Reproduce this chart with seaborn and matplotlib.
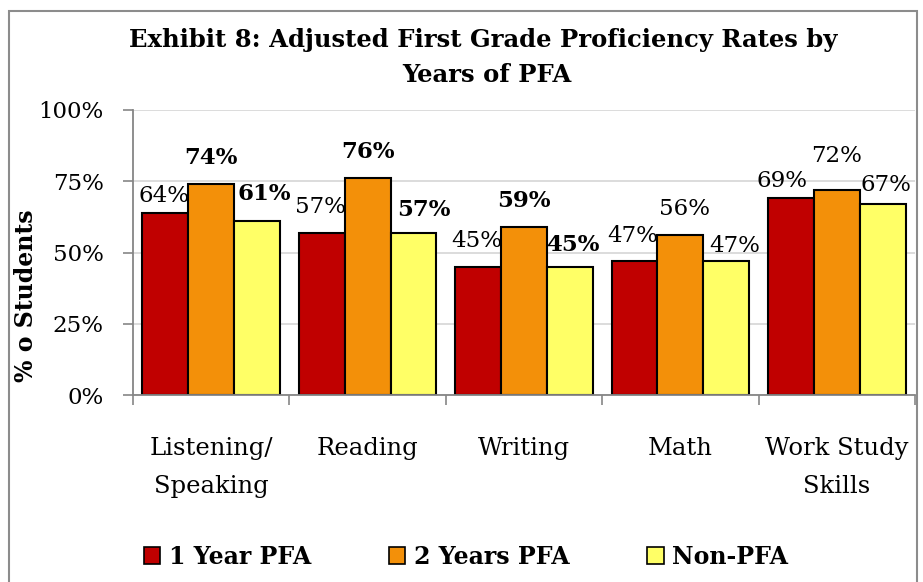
import numpy as np
import pandas as pd
import seaborn as sns
import matplotlib.pyplot as plt
from matplotlib.patches import Patch, Rectangle

# Data
CATEGORIES = ["Listening/\nSpeaking", "Reading", "Writing", "Math", "Work Study\nSkills"]
GROUPS = ["1 Year PFA", "2 Years PFA", "Non-PFA"]
ONE_YEAR = [64, 57, 45, 47, 69]
TWO_YEARS = [74, 76, 59, 56, 72]
NON_PFA = [61, 57, 45, 47, 67]
BOLD_LABELS = [
    [False, False, False, False, False],
    [True, True, True, False, False],
    [True, True, True, False, False],
]
Y_TICKS = [0, 25, 50, 75, 100]

COLORS = ["#C00000", "#F39009", "#FFFF66"]

# label nudges in pixels (dx, gap above bar top), same layout as groups x categories
NUDGE = [
    [(-1, 11), (-1, 20), (-1, 20), (-2, 19), (-9, 11)],
    [(0, 20), (0, 20), (0, 20), (4, 20), (0, 28)],
    [(7, 21), (10, 17), (3, 16), (8, 9), (3, 13)],
]

df = pd.DataFrame({
    "category": CATEGORIES * 3,
    "group": np.repeat(GROUPS, len(CATEGORIES)),
    "value": ONE_YEAR + TWO_YEARS + NON_PFA,
})

sns.set_theme(style="white")
plt.rcParams["font.family"] = ["DejaVu Serif"]
plt.rcParams["text.color"] = "black"
plt.rcParams["axes.labelcolor"] = "black"

fig = plt.figure(figsize=(9.23, 5.82), dpi=100)
ax = fig.add_axes([133 / 923, 187 / 582, 782 / 923, 285 / 582])

sns.barplot(data=df, x="category", y="value", hue="group", palette=COLORS,
            width=0.88, gap=0, edgecolor="black", linewidth=1.5,
            saturation=1, legend=False, ax=ax)

# data labels
for i, cont in enumerate(ax.containers):
    for j, bar in enumerate(cont):
        dx, dy = NUDGE[i][j]
        ax.annotate(f"{int(bar.get_height())}%",
                    (bar.get_x() + bar.get_width() / 2, bar.get_height()),
                    xytext=(dx, dy), textcoords="offset pixels",
                    ha="center", va="baseline", fontsize=16.5, color="black",
                    fontweight="bold" if BOLD_LABELS[i][j] else "normal")

# axes styling
ax.set_ylim(0, 100)
ax.set_xlim(-0.5, len(CATEGORIES) - 0.5)
ax.set_yticks(Y_TICKS)
ax.set_yticklabels([f"{t}%" for t in Y_TICKS], fontsize=16.5)
ax.yaxis.grid(True, color="#D9D9D9", linewidth=1.3)
ax.set_axisbelow(True)
ax.tick_params(axis="y", length=7, width=1.2, color="#868686", labelcolor="black",
               pad=14, left=True)
ax.set_xticks(np.arange(-0.5, len(CATEGORIES)), minor=True)
ax.tick_params(axis="x", which="minor", length=7, width=1.2, color="#868686", bottom=True)
ax.tick_params(axis="x", which="major", length=0, pad=30, labelsize=17.5, labelcolor="black")
for lbl in ax.get_xticklabels():
    lbl.set_linespacing(1.85)
sns.despine(ax=ax)
for s in ["left", "bottom"]:
    ax.spines[s].set_color("#868686")
    ax.spines[s].set_linewidth(1.3)

ax.set_xlabel("")
ax.set_ylabel("% o Students", fontsize=17, fontweight="bold")
ax.yaxis.set_label_coords(-0.121, 0.35)

# title
fig.text(483 / 923, 1 - 40 / 582, "Exhibit 8: Adjusted First Grade Proficiency Rates by",
         ha="center", va="center", fontsize=17.5, fontweight="bold")
fig.text(487 / 923, 1 - 75 / 582, "Years of PFA",
         ha="center", va="center", fontsize=17.5, fontweight="bold")

# legend
handles = [Patch(facecolor=c, edgecolor="black", linewidth=1.2) for c in COLORS]
fig.legend(handles, GROUPS, ncol=3, loc="center", bbox_to_anchor=(466 / 923, 25 / 582),
           frameon=False, prop={"size": 17, "weight": "bold"},
           handlelength=0.7, handleheight=0.7, handletextpad=0.35, columnspacing=3.3)

# chart border
fig.patches.append(Rectangle((9 / 923, -0.05), 908 / 923, 1.05 - 11 / 582,
                             transform=fig.transFigure, fill=False,
                             edgecolor="#8C8C8C", linewidth=1.5))

fig.savefig("out.png", dpi=100)
